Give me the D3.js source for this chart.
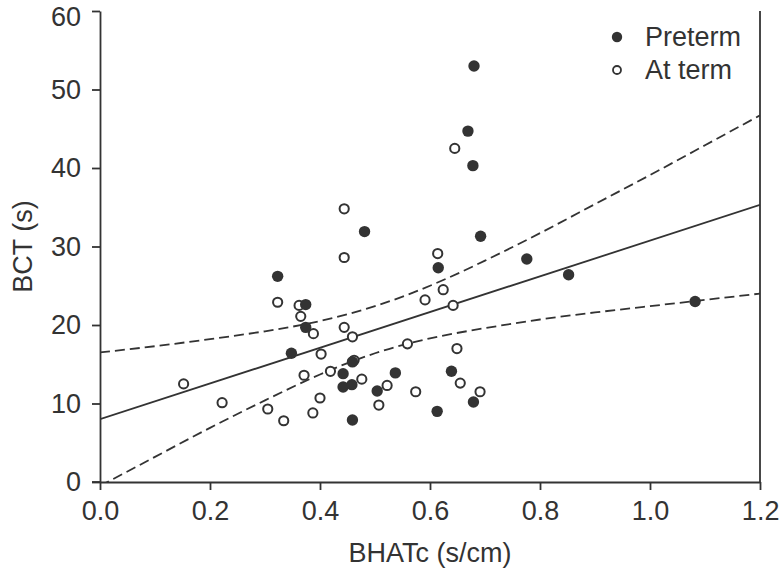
<!DOCTYPE html>
<html>
<head>
<meta charset="utf-8">
<script src="https://cdn.jsdelivr.net/npm/d3@7"></script>
<style>
  html, body { margin: 0; padding: 0; background: #fff; }
  svg text { font-family: "Liberation Sans", Arial, sans-serif; fill: #333; }
</style>
</head>
<body>
<svg id="chart" width="779" height="573"></svg>
<script>
// Preterm (filled circles): [BHATc, BCT]
const pretermX = [0.323, 0.374, 0.374, 0.348, 0.481, 0.692, 0.776, 0.852, 1.082, 0.615, 0.459, 0.442, 0.537, 0.639, 0.442, 0.458, 0.504, 0.679, 0.613, 0.459, 0.680, 0.669, 0.678];
const pretermY = [26.2, 22.6, 19.7, 16.4, 31.9, 31.3, 28.4, 26.4, 23.0, 27.3, 15.3, 13.8, 13.9, 14.1, 12.1, 12.4, 11.6, 10.2, 9.0, 7.9, 53.0, 44.7, 40.3];
// At term (open circles)
const termX = [0.152, 0.222, 0.323, 0.362, 0.365, 0.388, 0.402, 0.371, 0.419, 0.400, 0.305, 0.387, 0.334, 0.444, 0.444, 0.614, 0.624, 0.591, 0.642, 0.444, 0.459, 0.559, 0.649, 0.462, 0.476, 0.522, 0.655, 0.574, 0.691, 0.507, 0.645];
const termY = [12.5, 10.1, 22.9, 22.5, 21.1, 18.9, 16.3, 13.6, 14.1, 10.7, 9.3, 8.8, 7.8, 34.8, 28.6, 29.1, 24.5, 23.2, 22.5, 19.7, 18.5, 17.6, 17.0, 15.5, 13.1, 12.3, 12.6, 11.5, 11.5, 9.8, 42.5];
// Regression line and 95% confidence band
const fitX = [0.0, 1.2];
const fitY = [8.0, 35.3];
const bandX = [0.0, 0.1, 0.2, 0.3, 0.4, 0.5, 0.6, 0.7, 0.8, 0.9, 1.0, 1.1, 1.2];
const bandUpper = [16.5, 17.3, 18.2, 19.2, 20.5, 22.4, 25.0, 28.2, 31.7, 35.4, 39.1, 42.9, 46.7];
const bandLower = [-0.5, 3.2, 6.9, 10.4, 13.7, 16.4, 18.3, 19.6, 20.7, 21.6, 22.4, 23.2, 24.0];
// Axis ticks
const xTicks = [0.0, 0.2, 0.4, 0.6, 0.8, 1.0, 1.2];
const yTicks = [0, 10, 20, 30, 40, 50, 60];
const legendLabels = ["Preterm", "At term"];

const ink = "#333";
const FS = "27px";
const W = 779, H = 573;
const m = { left: 100, right: 19, top: 11, bottom: 91 };
const svg = d3.select("#chart");

const x = d3.scaleLinear().domain([0, 1.2]).range([m.left, W - m.right]);
const y = d3.scaleLinear().domain([0, 60]).range([H - m.bottom, m.top]);

svg.append("defs").append("clipPath").attr("id", "clip")
  .append("rect").attr("x", m.left).attr("y", m.top)
  .attr("width", W - m.left - m.right).attr("height", H - m.top - m.bottom);

// right frame line
svg.append("line")
  .attr("x1", x(1.2)).attr("x2", x(1.2))
  .attr("y1", y(60)).attr("y2", y(0))
  .attr("stroke", ink).attr("stroke-width", 1.8);

// axes
const xAxis = svg.append("g").attr("transform", `translate(0,${y(0)})`)
  .call(d3.axisBottom(x).tickValues(xTicks).tickFormat(d3.format(".1f")).tickSizeInner(8).tickSizeOuter(0).tickPadding(11));
const yAxis = svg.append("g").attr("transform", `translate(${x(0)},0)`)
  .call(d3.axisLeft(y).tickValues(yTicks).tickSizeInner(8).tickSizeOuter(0).tickPadding(11));
[xAxis, yAxis].forEach(g => {
  g.select(".domain").attr("stroke", ink).attr("stroke-width", 1.8);
  g.selectAll(".tick line").attr("stroke", ink).attr("stroke-width", 1.8);
  g.selectAll(".tick text").attr("fill", ink).style("font-size", FS)
    .style("font-family", "Liberation Sans, Arial, sans-serif");
});
// keep the top tick label inside the page
yAxis.selectAll(".tick text").filter(d => d === 60).attr("dy", "0.55em");
// keep the last x tick label inside the page
xAxis.selectAll(".tick text").filter(d => d === 1.2).attr("text-anchor", "end").attr("dx", "0.7em");
// extend x-axis line left to meet the 0 tick
svg.append("line").attr("x1", x(0) - 8).attr("x2", x(0))
  .attr("y1", y(0)).attr("y2", y(0)).attr("stroke", ink).attr("stroke-width", 1.8);

// axis titles
svg.append("text").attr("x", (x(0) + x(1.2)) / 2).attr("y", 562)
  .attr("text-anchor", "middle").style("font-size", FS).text("BHATc (s/cm)");
svg.append("text").attr("transform", `translate(32,${(y(0) + y(60)) / 2}) rotate(-90)`)
  .attr("text-anchor", "middle").style("font-size", FS).text("BCT (s)");

const plot = svg.append("g").attr("clip-path", "url(#clip)");

// regression line
plot.append("line")
  .attr("x1", x(fitX[0])).attr("y1", y(fitY[0]))
  .attr("x2", x(fitX[1])).attr("y2", y(fitY[1]))
  .attr("stroke", ink).attr("stroke-width", 1.8);

const bandLine = d3.line().x(d => x(d[0])).y(d => y(d[1])).curve(d3.curveNatural);
[bandUpper, bandLower].forEach(arr => {
  plot.append("path").datum(bandX.map((v, i) => [v, arr[i]]))
    .attr("d", bandLine).attr("fill", "none")
    .attr("stroke", ink).attr("stroke-width", 1.8).attr("stroke-dasharray", "10,5");
});

// points
svg.append("g").selectAll("circle").data(termX.map((v, i) => [v, termY[i]]))
  .join("circle").attr("cx", d => x(d[0])).attr("cy", d => y(d[1])).attr("r", 4.6)
  .attr("fill", "#fff").attr("stroke", ink).attr("stroke-width", 2);
svg.append("g").selectAll("circle").data(pretermX.map((v, i) => [v, pretermY[i]]))
  .join("circle").attr("cx", d => x(d[0])).attr("cy", d => y(d[1])).attr("r", 5.7)
  .attr("fill", ink);

// legend
const leg = svg.append("g");
leg.append("circle").attr("cx", 617).attr("cy", 37).attr("r", 5.2).attr("fill", ink);
leg.append("circle").attr("cx", 617).attr("cy", 70).attr("r", 4).attr("fill", "#fff")
  .attr("stroke", ink).attr("stroke-width", 1.8);
leg.selectAll("text").data(legendLabels).join("text")
  .attr("x", 645).attr("y", (d, i) => 46 + i * 33)
  .style("font-size", FS).text(d => d);
</script>
</body>
</html>
